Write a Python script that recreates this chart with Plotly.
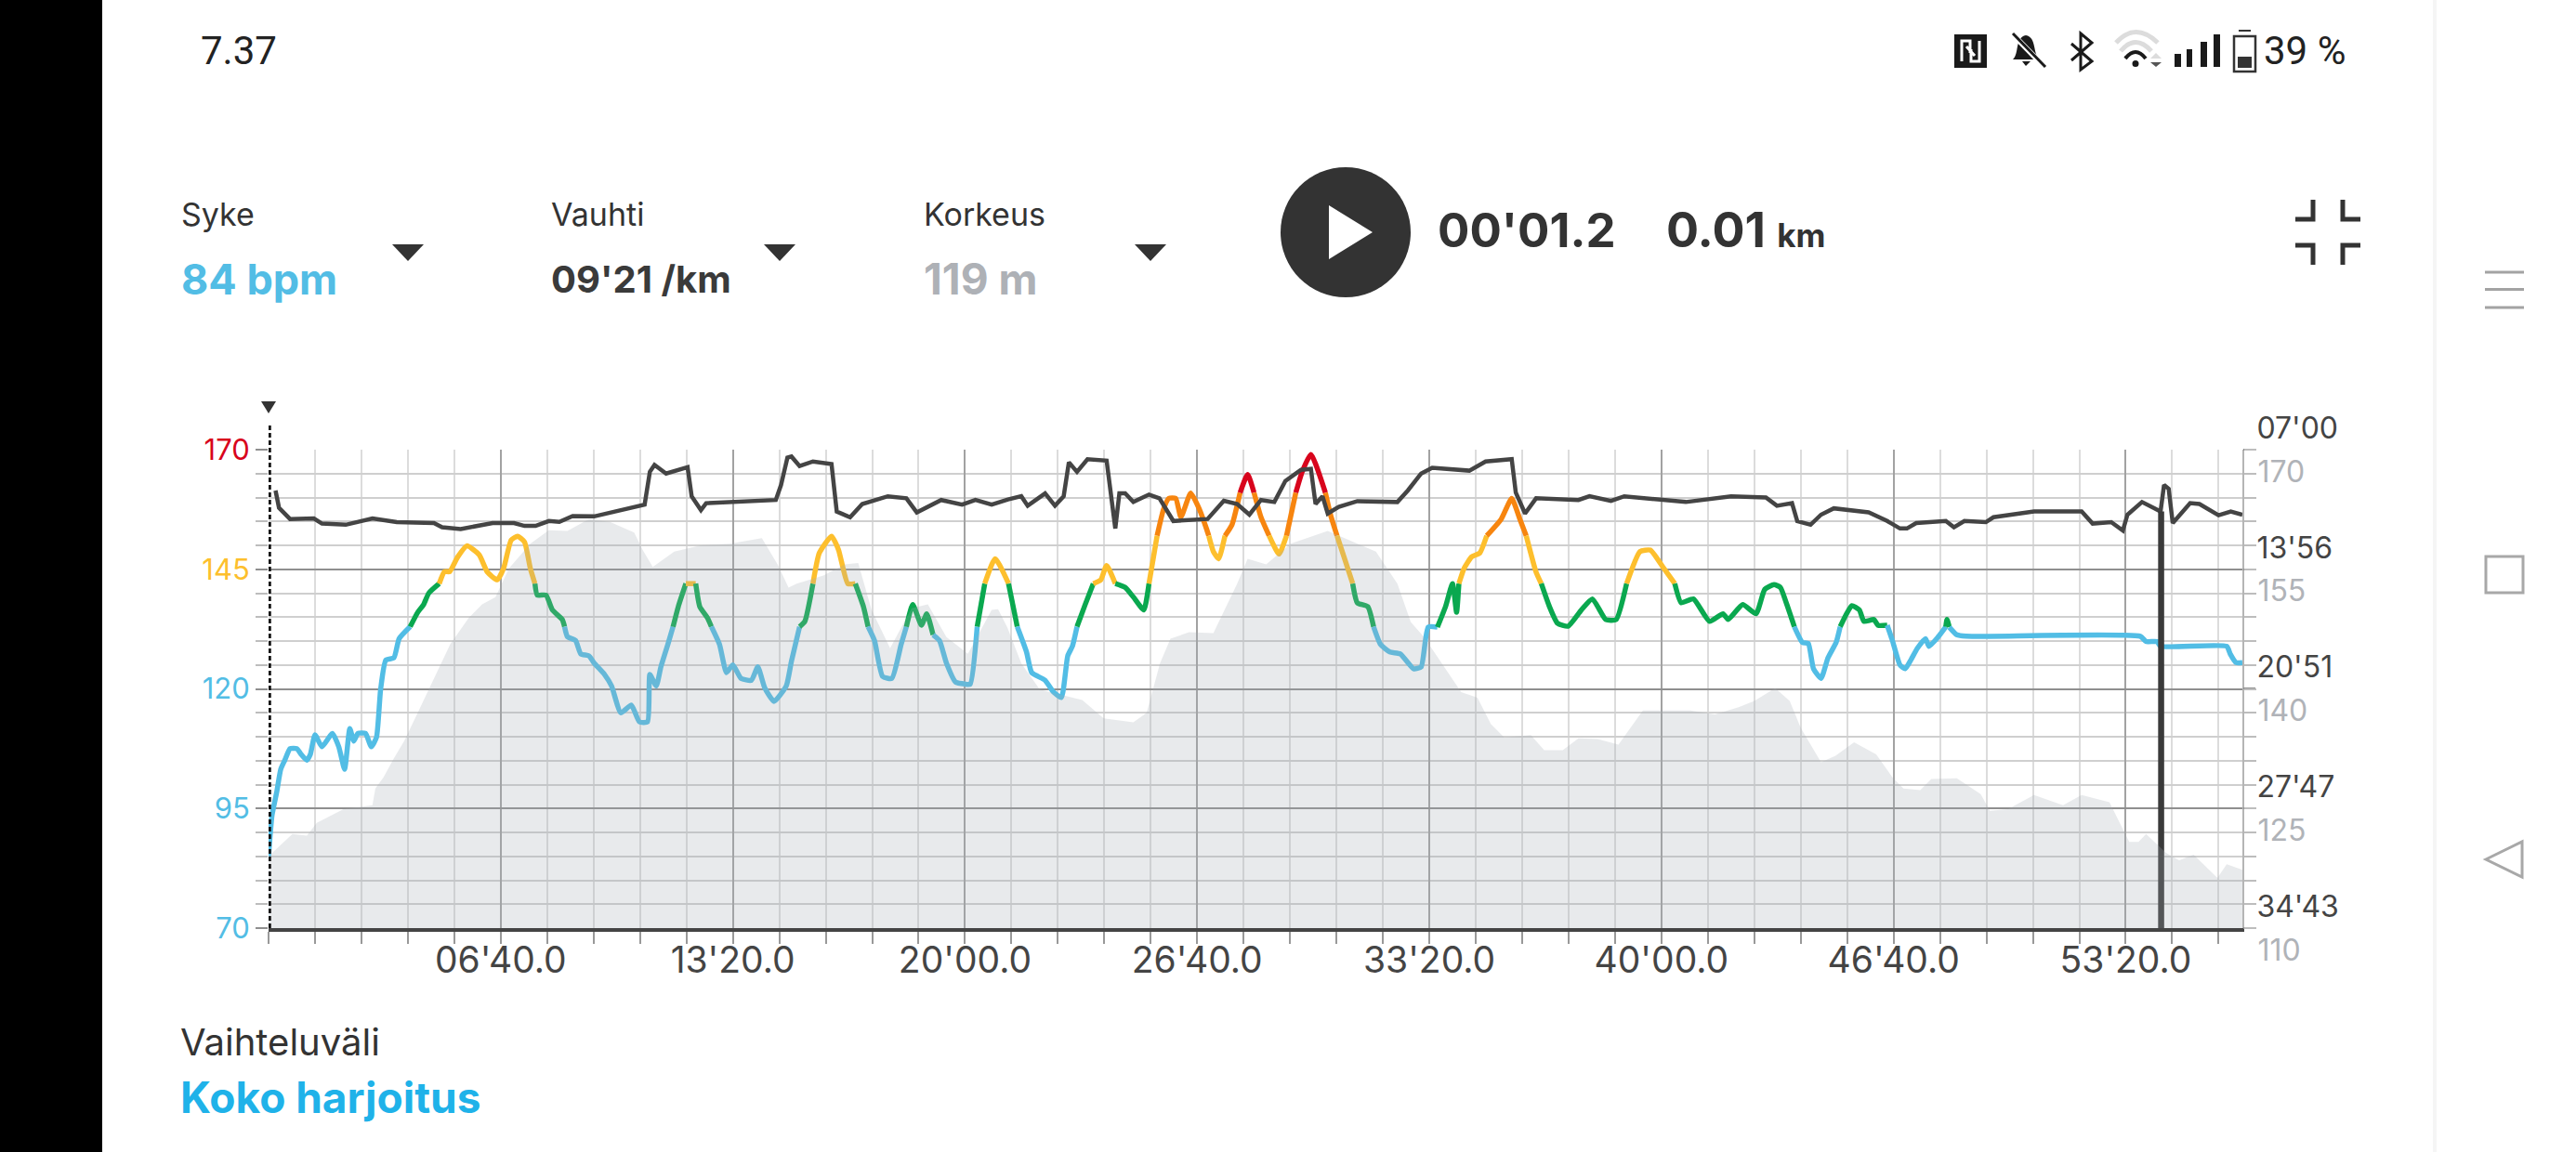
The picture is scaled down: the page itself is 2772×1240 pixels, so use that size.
import plotly.graph_objects as go

# ---------- chart data ----------
hr_t = [0,6,14,21,28,37,49,55,66,72,80,92,110,121,131,140,147,154,167,177,186,193,202,216,225,244,257,267,276,294,303,312,326,342,363,377,394,405,418,429,441,451,459,463,478,489,506,510,515,529,538,552,561,579,591,607,625,639,653,657,668,676,688,697,706,719,736,743,756,763,777,789,800,814,832,843,855,871,892,901,915,924,938,949,970,982,998,1011,1025,1033,1044,1058,1074,1090,1099,1110,1125,1134,1145,1156,1168,1184,1200,1209,1221,1234,1252,1275,1290,1306,1315,1338,1352,1366,1377,1385,1393,1407,1421,1434,1444,1459,1476,1490,1508,1517,1531,1542,1551,1563,1572,1589,1604,1616,1620,1628,1637,1648,1660,1674,1687,1698,1710,1724,1741,1754,1770,1781,1796,1821,1830,1841,1853,1868,1876,1894,1904,1916,1932,1950,1973,1986,1998,2014,2028,2040,2047,2051,2060,2073,2087,2099,2124,2142,2156,2167,2184,2193,2207,2221,2239,2262,2281,2304,2322,2340,2363,2381,2404,2423,2434,2455,2483,2506,2515,2540,2563,2578,2594,2605,2615,2629,2643,2653,2662,2675,2687,2701,2708,2719,2728,2741,2749,2766,2773,2789,2798,2811,2820,2830,2841,2855,2861,2877,2890,2892,2896,2909,2925,3225,3235,3254,3260,3374,3380,3390,3401]
hr_bpm = [85,93.6,98.4,103.2,105.1,107.5,107.5,106.5,105.1,106.3,110.4,107.9,110.7,107.9,103.2,111.7,109.1,110.7,110.7,107.9,109.9,119.8,126,126.5,130.5,133,136,137.6,140,142,144.5,144.5,147.6,149.9,148,144.4,142.8,145.2,151.1,151.9,150.7,145.2,142,139.6,139.6,136.5,134.5,133,130.9,130.1,127.3,126.9,125.4,123,120.6,115,116.6,113.1,113.1,123,120.6,124.6,129.3,133,137.2,142,142,137.2,134.9,133,129.3,123.4,125,122.2,121.8,124.6,120.2,117.4,120.6,125.8,133,134.1,142,148.4,151.9,149.1,142,142,137.2,133,130.1,122.6,122.2,129.3,133,137.6,133.3,135.7,131.3,130.1,125.4,121.4,121,121,133,142,147.2,142,133,127.7,123.4,121.8,119.4,118.2,126.9,128.9,133,137.6,142,142.8,145.8,142,141.2,139.2,136.5,142,152,157.5,159.8,159.8,155.9,160.9,157.5,153.5,152,148.7,147.2,152,154.3,161,164.8,161,155.9,152,148.2,152,161,165.4,169,161,156.3,152,147.6,142,138,137.2,133,129.3,127.7,127.3,124.2,124.6,132.9,132.9,137.2,142,136,142,145.2,147.6,148.4,152,155.5,159.8,155.5,152,144.4,142,137.2,133.7,133.1,136.5,138.8,134.5,134.5,142,148.7,149,145.2,142,138,138.8,134.1,135.7,134.5,137.6,135.7,140.8,141.8,141.2,138,133,129.7,129.5,124.2,122.2,126.5,129.7,133,135.7,137.4,136.5,134.1,134.5,133.3,133.3,130.1,125,124.2,126.1,128.5,130.5,128.9,130.9,133,134.5,132.9,131.3,131,131,129.9,129.9,128.9,128.9,127.3,125.5,125.5]

pace_t = [12,18,37,78,92,133,179,221,285,299,331,359,386,423,441,460,483,501,524,561,589,616,648,657,665,685,722,729,745,754,800,874,883,894,901,915,938,970,975,979,1002,1023,1067,1099,1117,1136,1159,1195,1218,1246,1274,1297,1308,1338,1355,1370,1379,1393,1411,1444,1453,1459,1466,1476,1490,1517,1535,1559,1618,1646,1669,1690,1710,1733,1752,1779,1796,1804,1816,1825,1844,1876,1945,1963,1986,2005,2069,2097,2142,2149,2165,2184,2257,2276,2313,2336,2442,2520,2580,2599,2625,2634,2657,2675,2697,2732,2757,2789,2811,2823,2839,2890,2904,2922,2959,2972,3010,3042,3124,3143,3175,3195,3203,3228,3260,3266,3274,3281,3311,3327,3360,3381,3401]
pace_sec_km = [562,622,661,659,677,681,659,672,675,690,696,685,675,675,685,685,668,671,651,652,638,628,611,497,473,503,481,582,630,606,602,595,543,448,444,477,461,470,562,635,655,609,582,589,638,619,595,611,595,611,593,582,615,572,615,582,464,497,453,458,609,694,572,572,602,576,589,668,661,598,609,646,595,602,529,490,487,609,582,642,619,599,602,562,503,483,493,461,453,569,642,589,595,582,598,582,602,582,586,615,606,668,681,646,624,632,638,668,694,694,675,668,690,668,672,655,646,635,635,677,672,701,646,602,635,543,556,675,606,609,648,635,646]

alt_t = [0,32,41,66,83,129,179,184,198,216,234,257,276,294,313,345,368,391,414,451,483,515,552,589,630,644,662,699,745,795,850,877,896,910,956,993,1016,1039,1071,1108,1136,1168,1205,1246,1257,1273,1297,1329,1402,1439,1490,1513,1536,1554,1586,1628,1669,1687,1719,1761,1825,1908,1945,1968,1991,2028,2055,2083,2106,2129,2175,2198,2230,2257,2290,2326,2368,2450,2492,2533,2560,2596,2621,2640,2656,2675,2700,2732,2770,2798,2817,2846,2865,2909,2950,2966,2997,3042,3092,3124,3172,3200,3206,3222,3235,3270,3292,3317,3336,3358,3374,3401]
alt_m = [119,121.1,121.8,121.6,123.2,124.9,125.4,127.5,128.9,131.3,133.5,137,139.9,142.7,145.6,148.9,150.6,151.5,155.1,158.2,159.9,159.8,161.3,160.9,159.6,157.5,155.3,157.2,158,158.2,158.9,155.6,152.7,153.2,154.2,155.6,155.8,149.9,145.1,150.1,150.6,146.5,144.4,149.9,150,147.7,143.2,139.9,138.6,136.3,135.8,137,143.2,146.3,147.1,147,153.2,156.3,155.6,158.2,159.8,157.2,153.2,148.4,146.5,142.5,139.6,138.9,135.6,133.9,134.2,132.3,132.3,133.8,133.7,133,137.3,137.3,136.8,137.7,138.5,140.1,138.5,135.1,133.2,130.8,131.6,133.3,131.8,128.9,127.5,127.3,128.7,128.8,126.8,124.7,124.9,126.7,125.4,126.7,125.8,121.8,120.8,120.8,121.8,119.4,118.5,119.2,117.8,116.3,118,117.3]

zone_limits = [133, 142, 152, 161]
zone_colors = ["#52bde5", "#0aa84f", "#fdbf2d", "#f7850f", "#d8041c"]

cursor_t = [3261, 3261]
cursor_pace = [635, 2083]

x_major = [400, 800, 1200, 1600, 2000, 2400, 2800, 3200]
x_labels = ["06'40.0", "13'20.0", "20'00.0", "26'40.0", "33'20.0", "40'00.0", "46'40.0", "53'20.0"]
x_minor = [80 * i for i in range(0, 43)]
hr_ticks = [70, 95, 120, 145, 170]
hr_tick_colors = ["#52bde5", "#52bde5", "#52bde5", "#fdbf2d", "#d8041c"]
hr_minor = [70 + 5 * i for i in range(21)]
pace_ticks = [420, 836, 1251, 1667, 2083]
pace_labels = ["07'00", "13'56", "20'51", "27'47", "34'43"]
alt_ticks = [110 + 3 * i for i in range(21)]
alt_labels = [str(v) if (v - 110) % 15 == 0 else "" for v in alt_ticks]

# ---------- canvas helpers ----------
W, H = 2772, 1240
PL, PR, PT, PB = 289, 2413, 484, 999
FONT = "Inter"
DARK = "#333333"


def X(px):
    return px / W


def Y(py):
    return 1 - py / H


def pth(*tokens):
    out, is_x = [], True
    for t in tokens:
        if isinstance(t, str):
            out.append(t)
            is_x = True
        else:
            out.append(f"{X(t) if is_x else Y(t):.5f}")
            is_x = not is_x
    return " ".join(out)


shapes = []


def rect(x0, y0, x1, y1, fill, line=None, lw=0, layer="above"):
    shapes.append(dict(type="rect", xref="paper", yref="paper", x0=X(x0), x1=X(x1), y0=Y(y0), y1=Y(y1),
                       fillcolor=fill, line=dict(color=line or fill, width=lw), layer=layer))


def path(d, fill=None, line=None, lw=0):
    s = dict(type="path", xref="paper", yref="paper", path=d, layer="above", line=dict(width=lw, color=line or "rgba(0,0,0,0)"))
    if fill:
        s["fillcolor"] = fill
    shapes.append(s)


def text(x, y, s, size, color, bold=False, family=FONT, anchor="left"):
    annotations.append(dict(x=X(x), y=Y(y), xref="paper", yref="paper", text=f"<b>{s}</b>" if bold else s,
                            showarrow=False, xanchor=anchor, yanchor="middle", borderpad=0, borderwidth=0,
                            font=dict(size=size, color=color, family=family)))


annotations = []

# ---------- traces ----------
fig = go.Figure()
fig.add_trace(go.Scatter(x=alt_t, y=alt_m, yaxis="y3", mode="lines", fill="tozeroy",
                         line=dict(width=0, color="#e9eaec"), fillcolor="rgba(165,170,178,0.25)",
                         name="Korkeus", showlegend=False))
fig.add_trace(go.Scatter(x=pace_t, y=pace_sec_km, yaxis="y2", mode="lines",
                         line=dict(width=4.5, color="#444444"), name="Vauhti", showlegend=False))


def zone_of(v):
    for i, lim in enumerate(zone_limits):
        if v < lim:
            return i
    return len(zone_limits)


runs = []
for i in range(len(hr_t) - 1):
    z = zone_of((hr_bpm[i] + hr_bpm[i + 1]) / 2)
    if runs and runs[-1][0] == z:
        runs[-1][1].append(i + 1)
    else:
        runs.append((z, [i, i + 1]))
for z, idx in runs:
    fig.add_trace(go.Scatter(x=[hr_t[k] for k in idx], y=[hr_bpm[k] for k in idx], mode="lines",
                             line=dict(width=5.5, color=zone_colors[z], shape="spline", smoothing=0.5),
                             name="Syke", showlegend=False))

fig.add_trace(go.Scatter(x=cursor_t, y=cursor_pace, yaxis="y2", mode="lines",
                         line=dict(width=6.5, color="#3a3a3a"), showlegend=False))

# ---------- page furniture ----------
rect(0, 0, 110, 1240, "#000000")
rect(2618, 0, 2622, 1240, "#f5f5f5")

# start marker
shapes.append(dict(type="line", xref="x", yref="paper", x0=0, x1=0, y0=Y(999), y1=Y(455), layer="above",
                   line=dict(color="#111111", width=5.5, dash="5px,3px")))
path(pth("M", 281, 432, "L", 297, 432, "L", 289, 445, "Z"), fill="#333333")

# header selectors
for x_lab, a, b, col, sz in [(195, "Syke", "84 bpm", "#52bde5", 45), (593, "Vauhti", "09'21 /km", "#3a3a3a", 40), (994, "Korkeus", "119 m", "#aeb1b6", 46)]:
    text(x_lab, 230, a, 34, DARK)
    text(x_lab, 300, b, sz, col, bold=True)
for cx in [439, 839, 1238]:
    path(pth("M", cx - 17, 263, "L", cx + 17, 263, "L", cx, 281, "Z"), fill="#333333")

# play button
shapes.append(dict(type="circle", xref="paper", yref="paper", x0=X(1378), x1=X(1518), y0=Y(320), y1=Y(180),
                   fillcolor="#333333", line=dict(width=0), layer="above"))
path(pth("M", 1430, 221, "L", 1477, 250, "L", 1430, 279, "Z"), fill="#ffffff")
text(1547, 248, "00'01.2", 51, DARK, bold=True)
text(1793, 248, '0.01 <span style="font-size:35px">km</span>', 52, DARK, bold=True)

# fullscreen icon
for d in [pth("M", 2489, 215, "L", 2489, 236, "L", 2470, 236),
          pth("M", 2521, 215, "L", 2521, 236, "L", 2540, 236),
          pth("M", 2489, 285, "L", 2489, 264, "L", 2470, 264),
          pth("M", 2521, 285, "L", 2521, 264, "L", 2540, 264)]:
    path(d, line="#333333", lw=5)

# status bar
text(216, 55, "7.37", 42, "#222222", family="Roboto")
text(2436, 55, "39 %", 42, "#222222", family="Roboto")
INK = "#1a1a1a"
rect(2103, 37, 2138, 73, INK)
path(pth("M", 2120, 57, "L", 2120, 44, "L", 2111, 44, "L", 2111, 66, "M", 2121, 53, "L", 2121, 66, "L", 2130, 66, "L", 2130, 44, "M", 2116, 50, "L", 2125, 60), line="#ffffff", lw=3)
path(pth("M", 2166, 64, "C", 2173, 58, 2168, 40, 2180, 38, "C", 2192, 40, 2187, 58, 2195, 64, "Z"), fill=INK)
path(pth("M", 2176, 66, "L", 2185, 66, "L", 2180, 71, "Z"), fill=INK)
path(pth("M", 2165, 36, "L", 2201, 73), line="#ffffff", lw=6)
path(pth("M", 2166, 36, "L", 2201, 72), line=INK, lw=3)
path(pth("M", 2229, 47, "L", 2251, 66, "L", 2239, 75, "L", 2239, 36, "L", 2251, 46, "L", 2229, 65), line=INK, lw=3)
path(pth("M", 2277, 46, "Q", 2298, 23, 2322, 46), line="#dcdcdc", lw=5)
path(pth("M", 2282, 55, "Q", 2298, 36, 2315, 55), line="#dcdcdc", lw=5)
path(pth("M", 2287, 63, "Q", 2298, 49, 2309, 63), line=INK, lw=4)
shapes.append(dict(type="circle", xref="paper", yref="paper", x0=X(2294.5), x1=X(2301.5), y0=Y(72), y1=Y(65),
                   fillcolor=INK, line=dict(width=0), layer="above"))
path(pth("M", 2314, 63, "L", 2326, 63, "L", 2320, 57, "Z"), fill="#dcdcdc")
path(pth("M", 2314, 67, "L", 2326, 67, "L", 2320, 72, "Z"), fill="#555555")
for x0, x1, top in [(2340, 2347, 58), (2353, 2359, 53), (2368, 2375, 45), (2382, 2389, 37)]:
    rect(x0, top, x1, 72, INK)
shapes.append(dict(type="rect", xref="paper", yref="paper", x0=X(2404), x1=X(2427), y0=Y(77), y1=Y(39),
                   line=dict(color="#333333", width=2.5), layer="above"))
rect(2409, 32, 2422, 34, "#333333")
rect(2408, 61, 2423, 73, "#333333")

# footer
text(194, 1121, "Vaihteluväli", 40, DARK)
text(194, 1181, "Koko harjoitus", 46, "#1fb2e9", bold=True)

# android nav bar
for yy in [293, 311.5, 331]:
    path(pth("M", 2674, yy, "L", 2716, yy), line="#a3a3a3", lw=3)
shapes.append(dict(type="rect", xref="paper", yref="paper", x0=X(2675), x1=X(2715), y0=Y(638), y1=Y(599),
                   line=dict(color="#a8a8a8", width=3), layer="above"))
path(pth("M", 2675, 925, "L", 2714, 906, "L", 2714, 944, "Z"), line="#a8a8a8", lw=3)

# ---------- layout ----------
fig.update_layout(
    width=W, height=H, margin=dict(l=0, r=0, t=0, b=0, autoexpand=False), paper_bgcolor="#ffffff", plot_bgcolor="#ffffff",
    showlegend=False, hovermode=False, shapes=shapes, annotations=annotations,
    font=dict(family=FONT, color="#444444"),
    xaxis=dict(domain=[X(PL), X(PR)], range=[0, 3401], tickmode="array", tickvals=x_major, ticktext=x_labels, automargin=False,
               showgrid=True, gridcolor="#a2a2a2", gridwidth=1.5, ticks="outside", ticklen=13, tickwidth=1.5, tickcolor="#999999",
               tickfont=dict(size=39, color="#444444", family=FONT), zeroline=False, ticklabelstandoff=-16,
               showline=True, linecolor="#444444", linewidth=4, anchor="y", layer="above traces",
               minor=dict(tickmode="array", tickvals=x_minor, showgrid=True, gridcolor="#dcdcdc", gridwidth=1.5,
                          ticks="outside", ticklen=13, tickwidth=1.5, tickcolor="#999999")),
    yaxis=dict(domain=[Y(PB), Y(PT)], range=[70, 170], tickmode="array", tickvals=hr_ticks, automargin=False,
               ticktext=[f'<span style="color:{c}">{v}</span>' for v, c in zip(hr_ticks, hr_tick_colors)],
               showgrid=True, gridcolor="#8f8f8f", gridwidth=2, ticks="outside", ticklen=13, tickwidth=2, tickcolor="#8f8f8f",
               tickfont=dict(size=31, family=FONT), zeroline=False, showline=False,
               minor=dict(tickmode="array", tickvals=hr_minor, showgrid=True, gridcolor="#cfcfcf", gridwidth=2,
                          ticks="outside", ticklen=13, tickwidth=2, tickcolor="#bdbdbd")),
    yaxis2=dict(overlaying="y", side="right", anchor="x", range=[2083, 420], tickmode="array", tickvals=pace_ticks, ticktext=pace_labels, automargin=False,
                ticklabelposition="outside top", ticklabelstandoff=8, showgrid=False, zeroline=False, ticks="outside", ticklen=13, tickwidth=2, tickcolor="#8f8f8f",
                tickfont=dict(size=32, color="#444444", family=FONT), showline=False),
    yaxis3=dict(overlaying="y", side="right", anchor="x", range=[110, 170], tickmode="array", tickvals=alt_ticks, ticktext=alt_labels, automargin=False,
                ticklabelposition="outside bottom", ticklabelstandoff=8, showgrid=False, zeroline=False, ticks="outside", ticklen=13, tickwidth=2, tickcolor="#bdbdbd",
                tickfont=dict(size=32, color="#b0b3b8", family=FONT), showline=True, linecolor="#b5b5b5", linewidth=2),
)

fig.write_html("out.html", config={"displayModeBar": False},
               post_script="document.body.style.margin='0';document.body.style.overflow='hidden';")
